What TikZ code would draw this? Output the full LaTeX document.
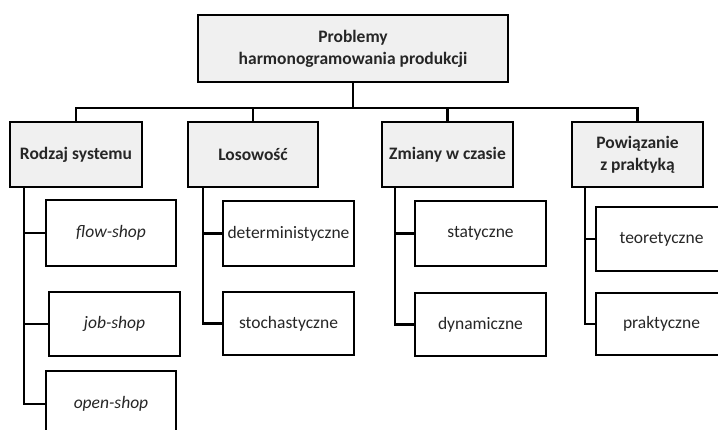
\documentclass[tikz,border=0pt]{standalone}
\usepackage{fontspec}
\setmainfont{Carlito}
\begin{document}
\begin{tikzpicture}[x=1pt,y=-1pt,
  basebox/.style={draw=black, line width=2.8pt, align=center, inner sep=0pt,
    font=\fontsize{17.5}{22}\selectfont, text=black!85},
  headbox/.style={basebox, fill=black!6, font=\fontsize{17.5}{22}\selectfont\bfseries},
  leafbox/.style={basebox, fill=white},
  conn/.style={draw=black, line width=2.8pt}]
\useasboundingbox (0,0) rectangle (718,430);
\clip (0,0) rectangle (718,430);
% top
\node[headbox, minimum width=310pt, minimum height=67pt] (top) at (353,48.5)
  {Problemy\\harmonogramowania produkcji};
% level 1
\node[headbox, minimum width=132pt, minimum height=65pt] (rod) at (76,154.5) {Rodzaj systemu};
\node[headbox, minimum width=130pt, minimum height=65pt] (los) at (253,154.5) {Losowość};
\node[headbox, minimum width=131pt, minimum height=65pt] (zmi) at (447.5,154.5) {Zmiany w czasie};
\node[headbox, minimum width=131pt, minimum height=65pt] (pow) at (637.5,154.5) {Powiązanie\\z praktyką};
% leaves
\node[leafbox, minimum width=130pt, minimum height=66pt] (flow) at (111,233) {\itshape flow-shop};
\node[leafbox, minimum width=131pt, minimum height=64pt] (job) at (114.5,324) {\itshape job-shop};
\node[leafbox, minimum width=130pt, minimum height=66pt] (open) at (111,404) {\itshape open-shop};
\node[leafbox, minimum width=131pt, minimum height=65pt] (det) at (288.5,233.5) {deterministyczne};
\node[leafbox, minimum width=131pt, minimum height=63pt] (sto) at (288.5,323.5) {stochastyczne};
\node[leafbox, minimum width=131pt, minimum height=65pt] (sta) at (480.5,233.5) {statyczne};
\node[leafbox, minimum width=131pt, minimum height=63pt] (dyn) at (480.5,324.5) {dynamiczne};
\node[leafbox, minimum width=131pt, minimum height=64pt] (teo) at (661.5,239) {teoretyczne};
\node[leafbox, minimum width=131pt, minimum height=62pt] (pra) at (661.5,324) {praktyczne};
% bus
\coordinate (bus) at (0,108);
\draw[conn] (top.south) -- (top.south |- bus);
\draw[conn] (rod.north) -- (rod.north |- bus) -| (pow.north);
\draw[conn] (los.north |- bus) -- (los.north);
\draw[conn] (zmi.north |- bus) -- (zmi.north);
% column spines
\coordinate (c1) at (24,0);
\coordinate (c2) at (203,0);
\coordinate (c3) at (395,0);
\coordinate (c4) at (585,0);
\draw[conn] (rod.south -| c1) |- (open.west);
\draw[conn] (c1 |- flow.west) -- (flow.west);
\draw[conn] (c1 |- job.west) -- (job.west);
\draw[conn] (los.south -| c2) |- (sto.west);
\draw[conn] (c2 |- det.west) -- (det.west);
\draw[conn] (zmi.south -| c3) |- (dyn.west);
\draw[conn] (c3 |- sta.west) -- (sta.west);
\draw[conn] (pow.south -| c4) |- (pra.west);
\draw[conn] (c4 |- teo.west) -- (teo.west);
\end{tikzpicture}
\end{document}
